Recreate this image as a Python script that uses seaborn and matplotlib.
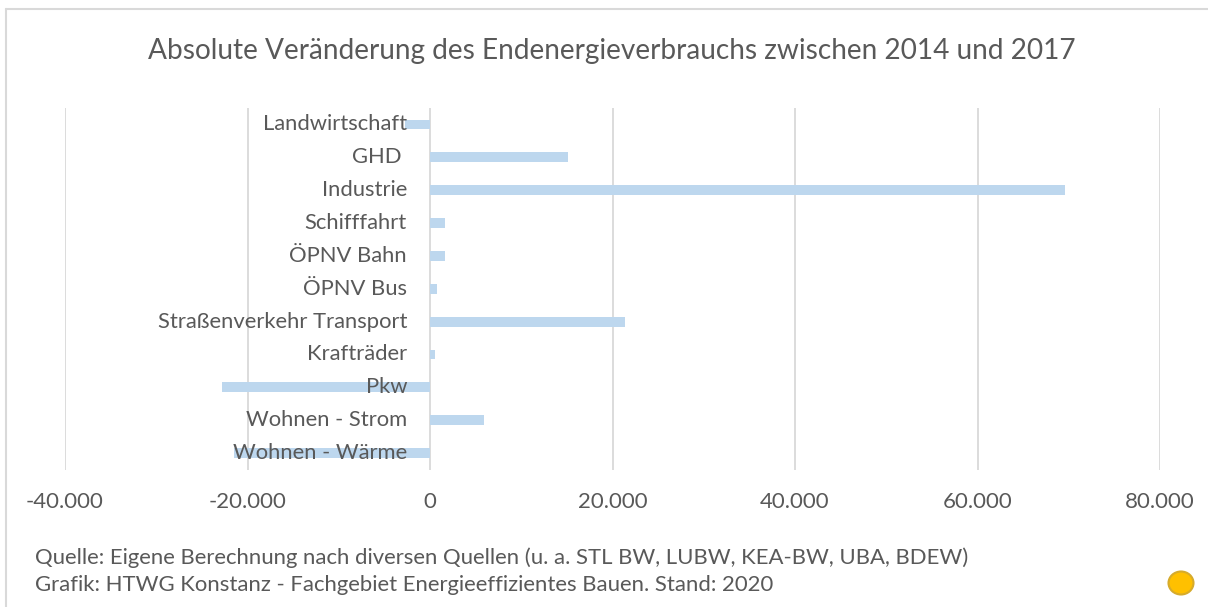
import matplotlib
matplotlib.use("Agg")
import matplotlib.pyplot as plt
import seaborn as sns
from matplotlib.lines import Line2D
from matplotlib.patches import Ellipse
from matplotlib.ticker import FuncFormatter
from matplotlib.transforms import offset_copy

# -----------------------------
# Data
# -----------------------------

sectors = [
    "Landwirtschaft",
    "GHD ",
    "Industrie",
    "Schifffahrt",
    "ÖPNV Bahn",
    "ÖPNV Bus",
    "Straßenverkehr Transport",
    "Krafträder",
    "Pkw",
    "Wohnen - Strom",
    "Wohnen - Wärme",
]
change = [-2700, 15100, 69600, 1600, 1600, 800, 21400, 500, -22800, 5900, -21500]

x_ticks = [-40000, -20000, 0, 20000, 40000, 60000, 80000]

title = "Absolute Veränderung des Endenergieverbrauchs zwischen 2014 und 2017"
source_lines = [
    "Quelle: Eigene Berechnung nach diversen Quellen (u. a. STL BW, LUBW, KEA-BW, UBA, BDEW)",
    "Grafik: HTWG Konstanz - Fachgebiet Energieeffizientes Bauen. Stand: 2020",
]

# -----------------------------
# Style
# -----------------------------

sns.set_style("white")
plt.rcParams["font.family"] = ["Lato", "DejaVu Sans"]

text_grey = "#595959"
grid_grey = "#D9D9D9"
bar_blue = "#BDD7EE"

W, H = 1208, 607
fig = plt.figure(figsize=(W / 100, H / 100), dpi=100)

# plot area in pixels: x 65..1160, y 108..469.5
ax = fig.add_axes([65 / W, 1 - 469.5 / H, (1160 - 65) / W, (469.5 - 108) / H])

sns.barplot(x=change, y=sectors, orient="h", color=bar_blue, saturation=1,
            width=0.3, linewidth=0, ax=ax)

ax.set_xlim(-40000, 80000)
ax.set_xticks(x_ticks)
ax.xaxis.set_major_formatter(FuncFormatter(lambda v, p: f"{v:,.0f}".replace(",", ".")))
ax.tick_params(axis="x", length=0, pad=16, labelsize=16, labelcolor=text_grey)
ax.set_yticks([])
ax.set_xlabel("")
ax.set_ylabel("")
ax.grid(axis="x", color=grid_grey, linewidth=1.3)
ax.set_axisbelow(True)
for s in ax.spines.values():
    s.set_visible(False)

# category labels sit next to the zero line, like in Excel
lab_trans = offset_copy(ax.transData, fig=fig, x=-23, y=0, units="dots")
for i, name in enumerate(sectors):
    ax.text(0, i, name, transform=lab_trans, ha="right", va="center",
            fontsize=15.8, color=text_grey, zorder=5)

# title and source notes
fig.text(612 / W, 1 - 51 / H, title, ha="center", va="center",
         fontsize=20.2, color=text_grey)
fig.text(35 / W, 1 - 558 / H, source_lines[0], ha="left", va="center",
         fontsize=15.9, color=text_grey)
fig.text(35 / W, 1 - 585 / H, source_lines[1], ha="left", va="center",
         fontsize=15.9, color=text_grey)

# frame (cut off on the right and bottom) and the yellow dot
fig.add_artist(Line2D([6 / W, 1], [1 - 9 / H, 1 - 9 / H], transform=fig.transFigure,
                      color=grid_grey, lw=1.5))
fig.add_artist(Line2D([6 / W, 6 / W], [0, 1 - 9 / H], transform=fig.transFigure,
                      color=grid_grey, lw=1.5))
fig.add_artist(Ellipse((1181 / W, 1 - 583 / H), 25 / W, 23 / H, transform=fig.transFigure,
                       facecolor="#FFC000", edgecolor="#D6AB2C", lw=1.5))

fig.savefig("out.png", dpi=100)
